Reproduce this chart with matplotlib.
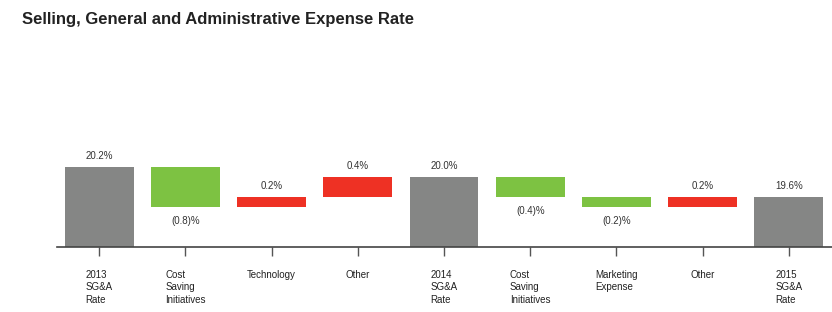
import matplotlib.pyplot as plt
import numpy as np

plt.rcParams['font.family'] = ['Liberation Sans', 'DejaVu Sans']

categories = ["2013\nSG&A\nRate", "Cost\nSaving\nInitiatives", "Technology", "Other",
              "2014\nSG&A\nRate", "Cost\nSaving\nInitiatives", "Marketing\nExpense", "Other",
              "2015\nSG&A\nRate"]
values = [20.2, -0.8, 0.2, 0.4, 20.0, -0.4, -0.2, 0.2, 19.6]
is_total = [True, False, False, False, True, False, False, False, True]

GRAY = '#858685'
GREEN = '#7dc242'
RED = '#ee3124'

base = 18.625          # value at the axis line
px_per_pct = 51.0      # vertical scale

W, H = 832, 312
fig = plt.figure(figsize=(W / 100, H / 100), dpi=100)
ax_left, ax_bottom_px, ax_top_px = 57, 247, 40
ax = fig.add_axes([ax_left / W, (H - ax_bottom_px) / H, (W - ax_left) / W,
                   (ax_bottom_px - ax_top_px) / H])

x = np.arange(len(values))
level = 0.0
for i, (v, tot) in enumerate(zip(values, is_total)):
    if tot:
        ax.bar(i, v - base, bottom=base, width=0.8, color=GRAY)
        ax.annotate(f"{v:.1f}%", (i, v), xytext=(0, 8), textcoords='offset points',
                    ha='center', va='center', fontsize=7, color='#333333')
        level = v
    else:
        new = level + v
        lo, hi = min(level, new), max(level, new)
        color = RED if v > 0 else GREEN
        ax.bar(i, hi - lo, bottom=lo, width=0.8, color=color)
        if v > 0:
            ax.annotate(f"{v:.1f}%", (i, hi), xytext=(0, 8), textcoords='offset points',
                        ha='center', va='center', fontsize=7, color='#333333')
        else:
            ax.annotate(f"({abs(v):.1f})%", (i, lo), xytext=(0, -10), textcoords='offset points',
                        ha='center', va='center', fontsize=7, color='#333333')
        level = new

ax.set_xlim((ax_left - 99.2) / 86.2, (W - 99.2) / 86.2)
ax.set_ylim(base, base + (ax_bottom_px - ax_top_px) / px_per_pct)

ax.set_xticks(x)
ax.set_xticklabels(categories, fontsize=7, color='#222222', linespacing=1.3)
for lbl in ax.get_xticklabels():
    lbl.set_multialignment('left')
ax.tick_params(axis='x', direction='out', length=6.5, width=1, color='#555555', pad=10)
ax.set_yticks([])
for s in ['top', 'right', 'left']:
    ax.spines[s].set_visible(False)
ax.spines['bottom'].set_color('#444444')
ax.spines['bottom'].set_linewidth(1.2)

fig.text(22 / W, 1 - 19.5 / H, "Selling, General and Administrative Expense Rate",
         fontsize=12, fontweight='bold', color='#222222', ha='left', va='center')

fig.savefig('out.png', dpi=100)
